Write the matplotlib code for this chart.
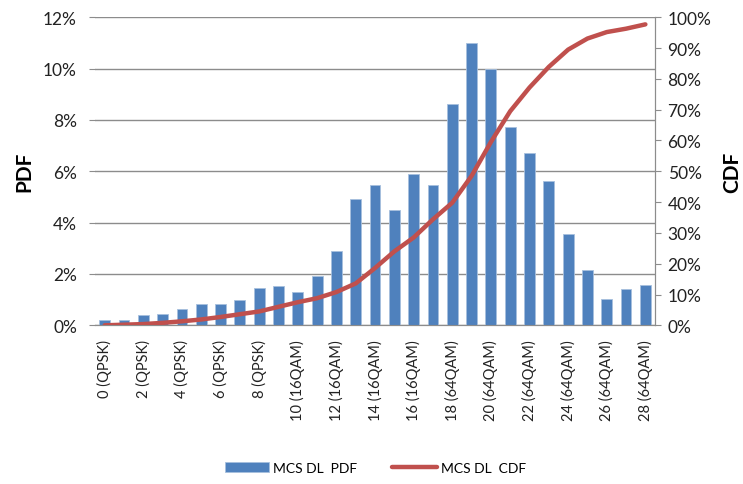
import numpy as np
import matplotlib.pyplot as plt
from matplotlib.ticker import PercentFormatter

plt.rcParams["font.family"] = ["Lato", "DejaVu Sans"]

# MCS index 0..28, modulation per index
mcs = list(range(29))
modulation = ["QPSK"] * 10 + ["16QAM"] * 7 + ["64QAM"] * 12
tick_labels = [f"{m} ({mod})" for m, mod in zip(mcs, modulation)]

# downlink MCS distribution (%)
pdf = [0.21, 0.21, 0.39, 0.45, 0.64, 0.82, 0.82, 0.99, 1.47, 1.53,
       1.29, 1.93, 2.89, 4.92, 5.45, 4.50, 5.88, 5.45, 8.62, 11.01,
       9.98, 7.74, 6.70, 5.63, 3.54, 2.17, 1.04, 1.40, 1.58]
cdf = [0.0, 0.2, 0.4, 0.8, 1.3, 1.9, 2.7, 3.6, 4.5, 6.0,
       7.5, 8.8, 10.8, 13.6, 18.6, 24.0, 28.5, 34.4, 39.8, 48.5,
       59.5, 69.5, 77.2, 83.9, 89.5, 93.1, 95.2, 96.3, 97.7]

bar_color = "#4F81BD"
line_color = "#C0504D"
grid_color = "#8C8C8C"

fig = plt.figure(figsize=(7.43, 4.85), dpi=100)
ax = fig.add_axes([0.1279, 0.3272, 0.7537, 0.6351])
ax2 = ax.twinx()

x = np.arange(len(mcs))
bars = ax.bar(x, pdf, width=0.56, color=bar_color, edgecolor="#A7C0DE",
              linewidth=0.6, label="MCS DL  PDF", zorder=3)
line, = ax2.plot(x, cdf, color=line_color, linewidth=3.2,
                 solid_capstyle="round", label="MCS DL  CDF", zorder=4)

# left axis (PDF)
ax.set_xlim(-0.5, len(mcs) - 0.5)
ax.set_ylim(0, 12)
ax.set_yticks(np.arange(0, 13, 2))
ax.yaxis.set_major_formatter(PercentFormatter(decimals=0))
ax.grid(axis="y", color=grid_color, linewidth=1.0, zorder=0)
ax.set_axisbelow(True)
ax.tick_params(axis="y", labelsize=12.5, length=4, color=grid_color,
               pad=9, labelcolor="#222222")
ax.set_ylabel("PDF", fontsize=15, fontweight="bold", labelpad=6)

ax.set_xticks(x[::2])
ax.set_xticklabels(tick_labels[::2], rotation=90, fontsize=10.5,
                   color="#222222")
ax.tick_params(axis="x", length=0, pad=10)

# right axis (CDF)
ax2.set_ylim(0, 100)
ax2.set_yticks(np.arange(0, 101, 10))
ax2.yaxis.set_major_formatter(PercentFormatter(decimals=0))
ax2.tick_params(axis="y", labelsize=12.5, length=4, color=grid_color,
                pad=5, labelcolor="#222222")
ax2.set_ylabel("CDF", fontsize=15, fontweight="bold", labelpad=8)

for a in (ax, ax2):
    a.spines["top"].set_visible(False)
    a.spines["left"].set_visible(False)
    a.spines["right"].set_color(grid_color)
    a.spines["bottom"].set_color(grid_color)

fig.legend([bars, line], ["MCS DL  PDF", "MCS DL  CDF"],
           loc="center", bbox_to_anchor=(0.505, 0.033), ncol=2,
           frameon=False, fontsize=10, handlelength=3.2,
           columnspacing=2.5, handletextpad=0.3)

fig.savefig("out.png", dpi=100)
